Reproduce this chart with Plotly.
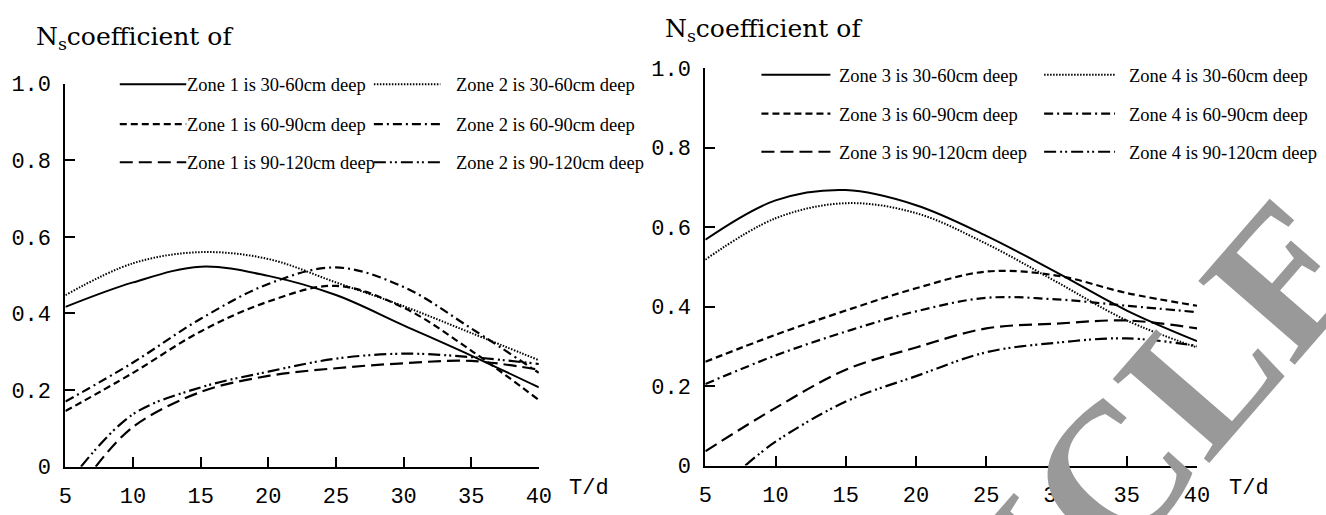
import plotly.graph_objects as go

# ---------------- data ----------------
T = [5, 10, 15, 20, 25, 30, 35, 40]

# left panel: zones 1 and 2
zone1_30_60 = [0.417, 0.481, 0.522, 0.498, 0.448, 0.369, 0.290, 0.207]
zone2_30_60 = [0.448, 0.531, 0.560, 0.542, 0.481, 0.419, 0.349, 0.278]
zone1_60_90 = [0.145, 0.245, 0.353, 0.431, 0.472, 0.415, 0.303, 0.174]
zone2_60_90 = [0.170, 0.272, 0.386, 0.477, 0.520, 0.469, 0.361, 0.245]
zone1_90_120_T = [7.24, 10, 15, 20, 25, 30, 35, 40]
zone1_90_120 = [0.0, 0.104, 0.195, 0.237, 0.257, 0.270, 0.276, 0.253]
zone2_90_120_T = [6.15, 10, 15, 20, 25, 30, 35, 40]
zone2_90_120 = [0.0, 0.137, 0.207, 0.248, 0.282, 0.295, 0.286, 0.268]

# right panel: zones 3 and 4
zone3_30_60 = [0.568, 0.667, 0.693, 0.655, 0.578, 0.486, 0.390, 0.313]
zone4_30_60 = [0.518, 0.622, 0.660, 0.635, 0.558, 0.462, 0.365, 0.297]
zone3_60_90 = [0.261, 0.329, 0.390, 0.446, 0.488, 0.478, 0.434, 0.402]
zone4_60_90 = [0.205, 0.277, 0.337, 0.388, 0.422, 0.418, 0.402, 0.386]
zone3_90_120 = [0.036, 0.145, 0.241, 0.297, 0.345, 0.357, 0.365, 0.345]
zone4_90_120_T = [7.85, 10, 15, 20, 25, 30, 35, 40]
zone4_90_120 = [0.0, 0.060, 0.161, 0.225, 0.285, 0.309, 0.320, 0.301]

x_ticks = [5, 10, 15, 20, 25, 30, 35, 40]
y_ticks = [0, 0.2, 0.4, 0.6, 0.8, 1.0]
y_ticktext = ["0", "0.2", "0.4", "0.6", "0.8", "1.0"]

left_labels = ["Zone 1 is 30-60cm deep", "Zone 2 is 30-60cm deep",
               "Zone 1 is 60-90cm deep", "Zone 2 is 60-90cm deep",
               "Zone 1 is 90-120cm deep", "Zone 2 is 90-120cm deep"]
right_labels = ["Zone 3 is 30-60cm deep", "Zone 4 is 30-60cm deep",
                "Zone 3 is 60-90cm deep", "Zone 4 is 60-90cm deep",
                "Zone 3 is 90-120cm deep", "Zone 4 is 90-120cm deep"]
title_text = "N<sub>s</sub>coefficient of"
x_title = "T/d"
watermark = "ICLE"

# ---------------- styles ----------------
W, H = 1326, 515
STY = {
    "solid": dict(dash="solid", width=2.0),
    "dot": dict(dash="1.5px,1.5px", width=2.0),
    "dash": dict(dash="7px,4px", width=2.2),
    "dashdot": dict(dash="9px,4px,2px,4px", width=2.2),
    "longdash": dict(dash="13px,6px", width=2.2),
    "dashdotdot": dict(dash="12px,4px,2px,3px,2px,4px", width=2.2),
}
order = ["solid", "dot", "dash", "dashdot", "longdash", "dashdotdot"]

fig = go.Figure()

def add(x, y, style, name, ax):
    s = STY[style]
    fig.add_trace(go.Scatter(
        x=x, y=y, mode="lines", name=name,
        line=dict(color="black", width=s["width"], dash=s["dash"],
                  shape="spline", smoothing=1.0),
        xaxis="x" if ax == 1 else "x2", yaxis="y" if ax == 1 else "y2",
        showlegend=False, hoverinfo="skip"))

add(T, zone1_30_60, "solid", left_labels[0], 1)
add(T, zone2_30_60, "dot", left_labels[1], 1)
add(T, zone1_60_90, "dash", left_labels[2], 1)
add(T, zone2_60_90, "dashdot", left_labels[3], 1)
add(zone1_90_120_T, zone1_90_120, "longdash", left_labels[4], 1)
add(zone2_90_120_T, zone2_90_120, "dashdotdot", left_labels[5], 1)

add(T, zone3_30_60, "solid", right_labels[0], 2)
add(T, zone4_30_60, "dot", right_labels[1], 2)
add(T, zone3_60_90, "dash", right_labels[2], 2)
add(T, zone4_60_90, "dashdot", right_labels[3], 2)
add(T, zone3_90_120, "longdash", right_labels[4], 2)
add(zone4_90_120_T, zone4_90_120, "dashdotdot", right_labels[5], 2)

px = lambda v: v / W
py = lambda v: 1 - v / H

tickfont = dict(family="Liberation Mono", size=22, color="black")
axis_common = dict(showline=True, linecolor="black", linewidth=2,
                   ticks="inside", ticklen=10, tickwidth=1.5, tickcolor="black",
                   showgrid=False, zeroline=False, tickfont=tickfont)

fig.update_layout(
    width=W, height=H, margin=dict(l=0, r=0, t=0, b=0),
    paper_bgcolor="white", plot_bgcolor="white", showlegend=False,
    xaxis=dict(domain=[px(59.3), px(540)], range=[5, 40], anchor="y",
               tickvals=x_ticks, ticklabelstandoff=8, **axis_common),
    yaxis=dict(domain=[1 - 480 / H, 1 - 77.3 / H], range=[0, 1], anchor="x",
               tickvals=y_ticks, ticktext=y_ticktext, ticklabelstandoff=8,
               **axis_common),
    xaxis2=dict(domain=[px(709), px(1208.3)], range=[5, 40], anchor="y2",
                tickvals=x_ticks, ticklabelstandoff=8, **axis_common),
    yaxis2=dict(domain=[1 - 478.8 / H, 1 - 61 / H], range=[0, 1], anchor="x2",
                tickvals=y_ticks, ticktext=y_ticktext, ticklabelstandoff=8,
                **axis_common),
)

ann = []
shapes = []
# titles
ann.append(dict(text=title_text, x=px(27), y=py(10), xref="paper", yref="paper",
                xanchor="left", yanchor="top", showarrow=False,
                font=dict(family="DejaVu Serif", size=25, color="black")))
ann.append(dict(text=title_text, x=px(666), y=py(2), xref="paper", yref="paper",
                xanchor="left", yanchor="top", showarrow=False,
                font=dict(family="DejaVu Serif", size=25, color="black")))
# x axis titles
for xc, yc in [(591, 503), (1261, 503)]:
    ann.append(dict(text=x_title, x=px(xc), y=py(yc), xref="paper", yref="paper",
                    xanchor="center", yanchor="middle", showarrow=False,
                    font=tickfont))

legfont = dict(family="Liberation Serif", size=18.5, color="black")
left_cols = [(114.5, 182, 181), (372.5, 440, 454)]
left_rows = [78, 120, 160]
right_cols = [(766, 836, 843), (1053, 1125, 1137)]
right_rows = [68, 109, 149]

def legend(labels, cols, rows):
    for i, lab in enumerate(labels):
        r, c = divmod(i, 2)
        x0, x1, xt = cols[c]
        yy = rows[r]
        s = STY[order[i]]
        shapes.append(dict(type="line", xref="paper", yref="paper",
                           x0=px(x0), x1=px(x1), y0=py(yy), y1=py(yy),
                           line=dict(color="black", width=s["width"], dash=s["dash"])))
        ann.append(dict(text=lab, x=px(xt), y=py(yy + 1), xref="paper", yref="paper",
                        xanchor="left", yanchor="middle", showarrow=False,
                        font=legfont))

legend(left_labels, left_cols, left_rows)
legend(right_labels, right_cols, right_rows)

# watermark fragment (drawn over the chart, as in the reference)
ann.append(dict(text="<b>" + watermark + "</b>", x=px(1182), y=py(416),
                xref="paper", yref="paper",
                xanchor="center", yanchor="middle", showarrow=False, textangle=-49,
                font=dict(family="Liberation Serif", size=195, color="#999999")))

fig.update_layout(annotations=ann, shapes=shapes)
fig.write_html("out.html")
